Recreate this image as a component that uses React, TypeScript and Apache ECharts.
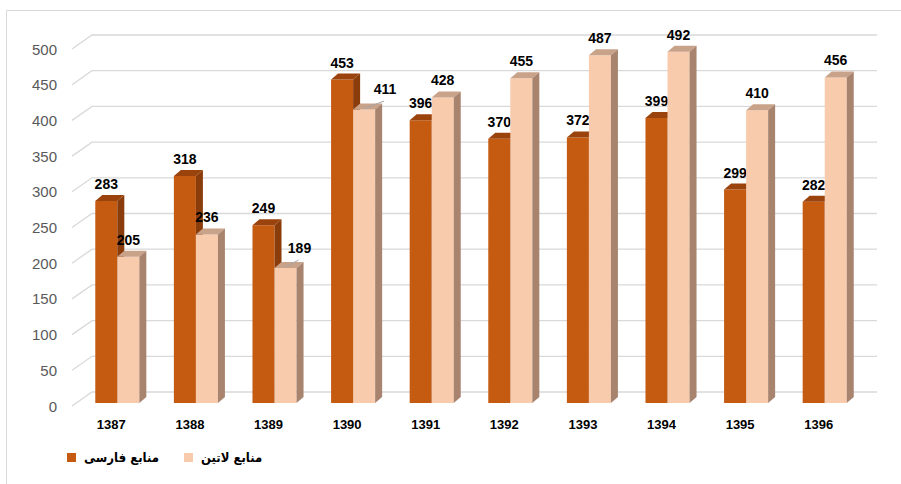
import React, { useEffect, useRef } from "react";
import * as echarts from "echarts";

const categories = ["1387", "1388", "1389", "1390", "1391", "1392", "1393", "1394", "1395", "1396"];
const persianSources = [283, 318, 249, 453, 396, 370, 372, 399, 299, 282];
const latinSources = [205, 236, 189, 411, 428, 455, 487, 492, 410, 456];
const yTicks = [0, 50, 100, 150, 200, 250, 300, 350, 400, 450, 500];

const persianName = "منابع فارسی";
const latinName = "منابع لاتین";

// label displacement (with leader line) for crowded labels: key = category index
const latinLeaders: Record<number, [number, number]> = { 2: [14, -3], 3: [21, -3.5] };
const persianLeaders: Record<number, [number, number]> = {};

const DX = 7;
const DY = 6;
const labelFont = 'bold 14px "Liberation Sans", Arial, sans-serif';

function makeBarRenderer(offset: number, front: string, top: string, side: string, leaders: Record<number, [number, number]>) {
  return (params: any, api: any) => {
    const idx = api.value(0);
    const val = api.value(1);
    const band = api.size([1, 0])[0];
    const s = band / 78.5;
    const [cx, y0] = api.coord([idx, 0]);
    const [, y1] = api.coord([idx, val]);
    const w = 22 * s;
    const x0 = cx + offset * s;
    const yb = y0 - 3;
    const yt = y1 - 3;
    const children: any[] = [
      { type: "rect", shape: { x: x0, y: yt, width: w, height: yb - yt }, style: { fill: front } },
      {
        type: "polygon",
        shape: { points: [[x0, yt], [x0 + DX, yt - DY], [x0 + w + DX, yt - DY], [x0 + w, yt]] },
        style: { fill: top },
      },
      {
        type: "polygon",
        shape: { points: [[x0 + w, yt], [x0 + w + DX, yt - DY], [x0 + w + DX, yb - DY], [x0 + w, yb]] },
        style: { fill: side },
      },
    ];
    let lx = x0 + w / 2;
    let ly = yt - DY - 11;
    const lead = leaders[idx];
    if (lead) {
      lx += lead[0];
      ly += lead[1];
      children.push({
        type: "line",
        shape: { x1: x0 + w / 2, y1: yt - 1, x2: lx - 1, y2: ly + 12 },
        style: { stroke: "#A6A6A6", lineWidth: 1 },
      });
    }
    children.push({
      type: "text",
      style: {
        text: String(val),
        x: lx,
        y: ly,
        align: "center",
        verticalAlign: "middle",
        font: labelFont,
        fill: "#000000",
      },
    });
    return { type: "group", children };
  };
}

const App: React.FC = () => {
  const ref = useRef<HTMLDivElement>(null);
  useEffect(() => {
    if (!ref.current) return;
    const chart = echarts.init(ref.current, null, { renderer: "svg" });
    chart.setOption({
      animation: false,
      backgroundColor: "#ffffff",
      graphic: [
        {
          type: "rect",
          shape: { x: 6.5, y: 10.5, width: 1000, height: 1000 },
          style: { fill: "none", stroke: "#D9D9D9", lineWidth: 1 },
          silent: true,
        },
      ],
      legend: {
        data: [persianName, latinName],
        left: 62,
        top: 446,
        icon: "rect",
        itemWidth: 9,
        itemHeight: 9,
        itemGap: 25,
        textStyle: {
          fontFamily: '"DejaVu Sans Condensed", "DejaVu Sans", sans-serif',
          fontWeight: "bold",
          fontSize: 13,
          color: "#000000",
          padding: [0, 0, 0, 3],
        },
      },
      grid: { left: 72, right: 43, top: 49, bottom: 78 },
      xAxis: {
        type: "category",
        data: categories,
        axisLine: { show: false },
        axisTick: { show: false },
        axisLabel: {
          margin: 12,
          color: "#000000",
          fontFamily: '"Liberation Sans", Arial, sans-serif',
          fontWeight: "bold",
          fontSize: 13,
        },
      },
      yAxis: {
        type: "value",
        min: 0,
        max: 500,
        interval: 50,
        axisLine: { show: false },
        axisTick: { show: false },
        splitLine: { show: false },
        axisLabel: {
          margin: 15,
          color: "#595959",
          fontFamily: '"Liberation Sans", Arial, sans-serif',
          fontSize: 15,
        },
      },
      series: [
        {
          type: "custom",
          name: "grid",
          silent: true,
          z: 1,
          data: yTicks.map((t) => [0, t]),
          encode: { x: 0, y: 1 },
          renderItem: (params: any, api: any) => {
            const cs = params.coordSys;
            const y = api.coord([0, api.value(1)])[1];
            const left = cs.x;
            const right = cs.x + cs.width;
            return {
              type: "polyline",
              shape: { points: [[left, y], [left + 20, y - 14], [right + 19, y - 14]] },
              style: { stroke: "#D9D9D9", lineWidth: 1.3, fill: "none" },
            };
          },
        },
        {
          type: "custom",
          name: persianName,
          z: 2,
          itemStyle: { color: "#C55A11" },
          data: persianSources.map((v, i) => [i, v]),
          encode: { x: 0, y: 1 },
          renderItem: makeBarRenderer(-16, "#C55A11", "#9A430C", "#8A3C0B", persianLeaders),
        },
        {
          type: "custom",
          name: latinName,
          z: 3,
          itemStyle: { color: "#F8CBAD" },
          data: latinSources.map((v, i) => [i, v]),
          encode: { x: 0, y: 1 },
          renderItem: makeBarRenderer(6, "#F8CBAD", "#C9A28A", "#A8846F", latinLeaders),
        },
      ],
    });
    return () => chart.dispose();
  }, []);
  return (
    <div
      ref={ref}
      style={{ position: "absolute", left: 0, top: 0, width: 901, height: 484 }}
    />
  );
};

export default App;
